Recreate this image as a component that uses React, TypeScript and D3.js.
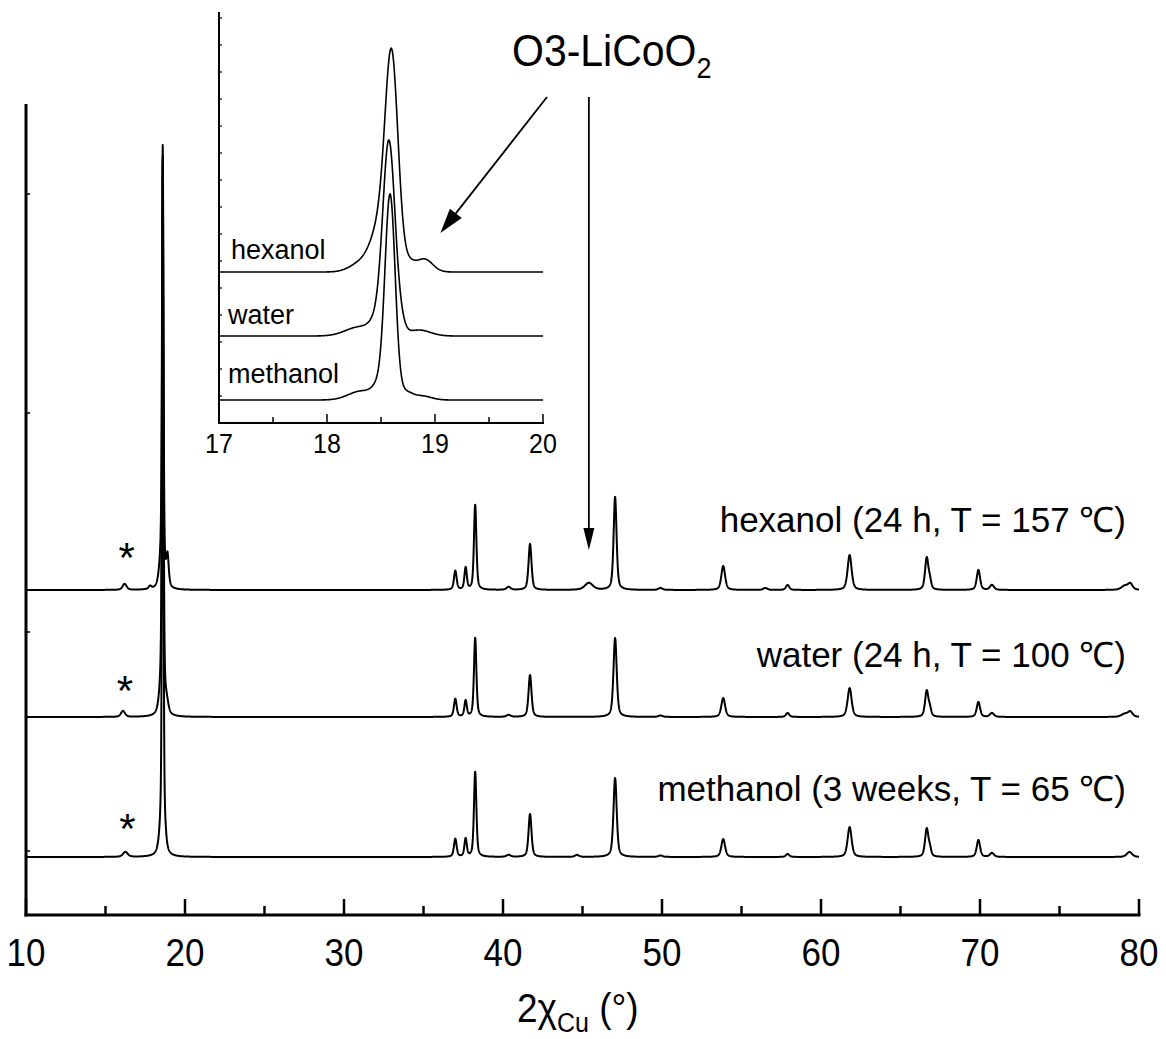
import React from "react";
import * as d3 from "d3";

const FONT = "'Liberation Sans', Arial, Helvetica, sans-serif";

// ---------- main pattern ----------
const mainXDomain = [10, 80];
const mainXMajorTicks = [10, 20, 30, 40, 50, 60, 70, 80];
const mainXMinorTicks = [15, 25, 35, 45, 55, 65, 75];
const mainYDomain = [0, 811];
const mainYTicks = [64, 283, 502, 721];

const seriesLabels = [
  "hexanol (24 h, T = 157 \u2103)",
  "water (24 h, T = 100 \u2103)",
  "methanol (3 weeks, T = 65 \u2103)",
];
const seriesOffsets = [325, 198, 58];
const impurityPositions = [16.2, 16.1, 16.25];

// peaks: [2θ, height, fwhm]
const hexanolPeaks = [
  [16.2, 6, 0.3], [17.8, 3, 0.2], [18.6, 428, 0.11], [18.5, 22, 0.3], [18.9, 30, 0.18],
  [37.0, 19, 0.2], [37.65, 22, 0.18], [38.25, 85, 0.18], [40.35, 3, 0.3], [41.7, 46, 0.22],
  [45.4, 7, 0.6], [47.05, 93, 0.22], [49.9, 2, 0.3], [53.85, 24, 0.28], [56.5, 2, 0.3],
  [57.9, 5, 0.25], [61.8, 35, 0.3], [66.65, 32, 0.25], [66.85, 8, 0.2], [69.9, 20, 0.25],
  [70.75, 5, 0.3], [79.1, 4, 0.5], [79.45, 6, 0.35],
];
const waterPeaks = [
  [16.1, 6, 0.3], [18.6, 545, 0.11], [18.5, 20, 0.3], [18.85, 10, 0.25],
  [37.0, 18, 0.2], [37.65, 16, 0.18], [38.25, 79, 0.18], [40.35, 2, 0.3], [41.7, 42, 0.22],
  [47.05, 79, 0.24], [49.9, 1.5, 0.3], [53.85, 19, 0.28], [57.9, 4, 0.25], [61.8, 29, 0.3],
  [66.65, 26, 0.25], [66.85, 7, 0.2], [69.9, 15, 0.25], [70.75, 4, 0.3], [79.1, 3, 0.5],
  [79.45, 5, 0.35],
];
const methanolPeaks = [
  [16.25, 5, 0.35], [18.6, 680, 0.1], [18.5, 18, 0.3], [18.75, 8, 0.2],
  [37.0, 18, 0.2], [37.65, 18, 0.18], [38.25, 85, 0.18], [40.35, 2, 0.3], [41.7, 43, 0.22],
  [44.65, 2, 0.3], [47.05, 79, 0.24], [49.9, 1.5, 0.3], [53.85, 18, 0.28], [57.9, 3, 0.25],
  [61.8, 30, 0.3], [66.65, 28, 0.25], [66.85, 7, 0.2], [69.9, 17, 0.25], [70.75, 4, 0.3],
  [79.4, 5, 0.4],
];

// ---------- inset (17-20°) ----------
const insetXDomain = [17, 20];
const insetXMajorTicks = [17, 18, 19, 20];
const insetXMinorTicks = [17.5, 18.5, 19.5];
const insetYDomain = [0, 410];
const insetYTicks = [27, 54, 81, 108, 135, 162, 189, 216, 243, 270, 297, 324, 351, 378, 405];
const insetNames = ["hexanol", "water", "methanol"];
const insetOffsets = [151, 87, 23];
const hexanolInsetPeaks = [
  [18.6, 200, 0.14], [18.5, 45, 0.2], [18.33, 10, 0.25], [18.76, 8, 0.12], [18.9, 13, 0.18],
];
const waterInsetPeaks = [
  [18.575, 182, 0.13], [18.5, 20, 0.18], [18.3, 9, 0.3], [18.68, 10, 0.1], [18.85, 6, 0.25],
];
const methanolInsetPeaks = [
  [18.585, 198, 0.11], [18.5, 16, 0.15], [18.32, 9, 0.28], [18.72, 8, 0.15], [18.88, 4, 0.2],
];

function profile(x: number, peaks: number[][], eta: number) {
  let s = 0;
  for (const [p, h, w] of peaks) {
    const d = x - p;
    const L = 1 / (1 + (d / (w / 2)) ** 2);
    const G = Math.exp(-4 * Math.LN2 * (d / w) ** 2);
    s += h * (eta * L + (1 - eta) * G);
  }
  return s;
}

function Txt({ x, y, size, sy = 1, anchor = "start", children }: any) {
  return (
    <text
      transform={`translate(${x},${y}) scale(1,${sy})`}
      fontSize={size}
      fontFamily={FONT}
      textAnchor={anchor}
      fill="#000"
    >
      {children}
    </text>
  );
}

function Arrow({ x1, y1, x2, y2, head, half }: any) {
  const dx = x2 - x1, dy = y2 - y1;
  const len = Math.hypot(dx, dy);
  const ux = dx / len, uy = dy / len;
  const bx = x2 - ux * head, by = y2 - uy * head;
  const px = -uy, py = ux;
  return (
    <g>
      <line x1={x1} y1={y1} x2={bx} y2={by} stroke="#000" strokeWidth={1.8} />
      <polygon
        points={`${x2},${y2} ${bx + px * half},${by + py * half} ${bx - px * half},${by - py * half}`}
        fill="#000"
      />
    </g>
  );
}

export default function App() {
  const x = d3.scaleLinear().domain(mainXDomain).range([26, 1139]);
  const y = d3.scaleLinear().domain(mainYDomain).range([915, 104]);
  const ix = d3.scaleLinear().domain(insetXDomain).range([219, 543]);
  const iy = d3.scaleLinear().domain(insetYDomain).range([423, 13]);

  const mainGrid = d3.range(10, 80.0001, 0.01);
  const insetGrid = d3.range(17, 20.0001, 0.005);
  const mainSets = [hexanolPeaks, waterPeaks, methanolPeaks];
  const insetSets = [hexanolInsetPeaks, waterInsetPeaks, methanolInsetPeaks];

  const mainLine = d3.line<[number, number]>().x((d) => x(d[0])).y((d) => y(d[1]));
  const insetLine = d3.line<[number, number]>().x((d) => ix(d[0])).y((d) => iy(d[1]));

  const mainPaths = mainSets.map((pk, i) =>
    mainLine(mainGrid.map((t) => [t, seriesOffsets[i] + profile(t, pk, 0.5)] as [number, number]))
  );
  const insetPaths = insetSets.map((pk, i) =>
    insetLine(insetGrid.map((t) => [t, insetOffsets[i] + profile(t, pk, 0)] as [number, number]))
  );

  const labelDy = [-58, -50, -56];
  const insetLabelDy = [-13, -12, -17];

  return (
    <svg
      width={1166}
      height={1039}
      style={{ position: "absolute", left: 0, top: 0, background: "#fff" }}
    >
      <rect x={0} y={0} width={1166} height={1039} fill="#fff" />

      {/* main curves */}
      {mainPaths.map((p, i) => (
        <path key={i} d={p || ""} fill="none" stroke="#000" strokeWidth={2} strokeLinejoin="round" />
      ))}

      {/* main axes */}
      <line x1={26} y1={104} x2={26} y2={916.5} stroke="#000" strokeWidth={3} />
      <line x1={24.5} y1={915} x2={1140.5} y2={915} stroke="#000" strokeWidth={3} />
      {mainYTicks.map((t) => (
        <line key={t} x1={26} x2={30} y1={y(t)} y2={y(t)} stroke="#000" strokeWidth={1.5} />
      ))}
      {mainXMajorTicks.map((t) => (
        <line key={t} x1={x(t)} x2={x(t)} y1={915} y2={899} stroke="#000" strokeWidth={2.5} />
      ))}
      {mainXMinorTicks.map((t) => (
        <line key={t} x1={x(t)} x2={x(t)} y1={915} y2={906} stroke="#000" strokeWidth={2.5} />
      ))}
      {mainXMajorTicks.map((t) => (
        <Txt key={t} x={x(t)} y={966} size={35} sy={1.12} anchor="middle">
          {t}
        </Txt>
      ))}
      <text
        transform="translate(517,1022) scale(1,1.12)"
        fontFamily={FONT}
        fontSize={37}
        fill="#000"
      >
        2χ
        <tspan fontSize={25} dy={9}>Cu</tspan>
        <tspan fontSize={37} dy={-9}> (°)</tspan>
      </text>

      {/* main labels */}
      {seriesLabels.map((s, i) => (
        <Txt key={s} x={1126} y={y(seriesOffsets[i]) + labelDy[i]} size={35} anchor="end">
          {s}
        </Txt>
      ))}
      {impurityPositions.map((p, i) => (
        <Txt key={i} x={x(p) + 2} y={y(seriesOffsets[i]) - 12 - (i === 0 ? 6 : 0) - (i === 2 ? 2 : 0)} size={42} anchor="middle">
          *
        </Txt>
      ))}

      {/* inset */}
      <rect x={220} y={10} width={330} height={415} fill="#fff" />
      {insetPaths.map((p, i) => (
        <path key={i} d={p || ""} fill="none" stroke="#000" strokeWidth={1.6} strokeLinejoin="round" />
      ))}
      <line x1={219} y1={12} x2={219} y2={424} stroke="#000" strokeWidth={2} />
      <line x1={218} y1={423} x2={544} y2={423} stroke="#000" strokeWidth={2} />
      {insetYTicks.map((t) => (
        <line key={t} x1={219} x2={222} y1={iy(t)} y2={iy(t)} stroke="#000" strokeWidth={1.2} />
      ))}
      {insetXMajorTicks.map((t) => (
        <line key={t} x1={ix(t)} x2={ix(t)} y1={423} y2={414} stroke="#000" strokeWidth={1.5} />
      ))}
      {insetXMinorTicks.map((t) => (
        <line key={t} x1={ix(t)} x2={ix(t)} y1={423} y2={417} stroke="#000" strokeWidth={1.5} />
      ))}
      {insetXMajorTicks.map((t) => (
        <Txt key={t} x={ix(t)} y={453} size={25} sy={1.12} anchor="middle">
          {t}
        </Txt>
      ))}
      {insetNames.map((n, i) => (
        <Txt key={n} x={i === 0 ? 231 : 228} y={iy(insetOffsets[i]) + insetLabelDy[i]} size={27}>
          {n}
        </Txt>
      ))}

      {/* annotation */}
      <text transform="translate(512,66) scale(1,1.1)" fontFamily={FONT} fontSize={41} fill="#000">
        O3-LiCoO
        <tspan fontSize={27} dy={11}>2</tspan>
      </text>
      <Arrow x1={547} y1={97} x2={ix(19.05)} y2={iy(190)} head={25} half={7.5} />
      <Arrow x1={x(45.4)} y1={97} x2={x(45.4)} y2={550} head={22} half={5.5} />
    </svg>
  );
}
